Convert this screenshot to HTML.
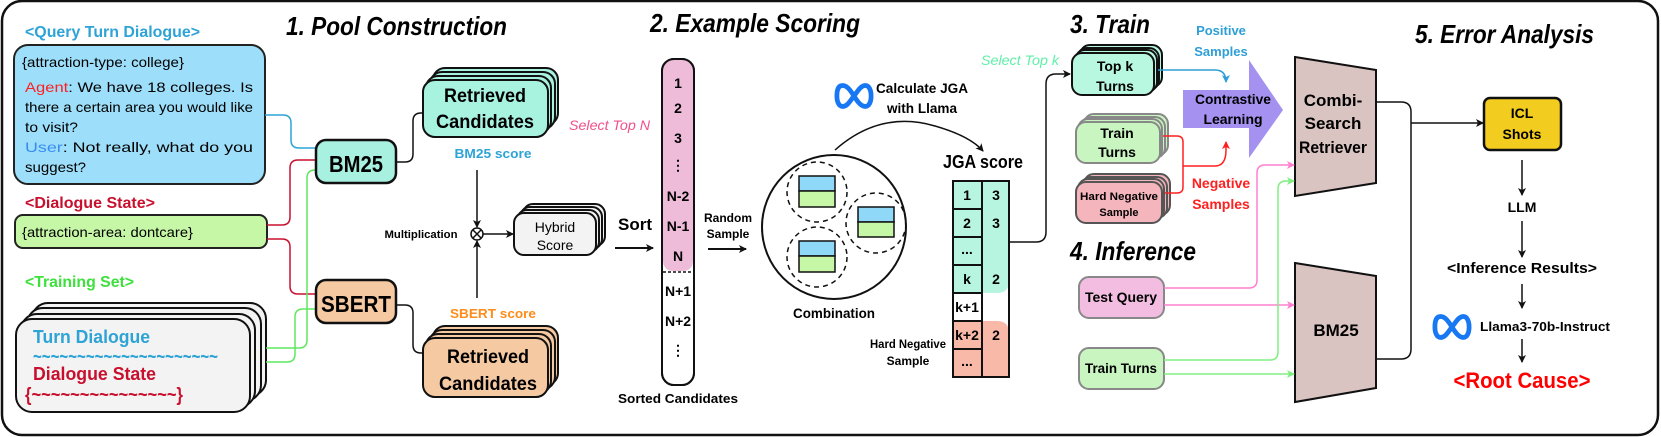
<!DOCTYPE html>
<html><head><meta charset="utf-8"><style>
html,body{margin:0;padding:0;background:#fff;}
svg{display:block;}
text{font-family:"Liberation Sans",sans-serif;font-weight:bold;}
</style></head><body>
<svg width="1661" height="437" viewBox="0 0 1661 437" xmlns="http://www.w3.org/2000/svg">
<defs>
<marker id="ak" markerWidth="8" markerHeight="8" refX="7" refY="4" orient="auto" markerUnits="userSpaceOnUse"><path d="M0,0 L8,4 L0,8 L2,4 Z" fill="#111"/></marker>
<marker id="ab" markerWidth="8" markerHeight="8" refX="7" refY="4" orient="auto" markerUnits="userSpaceOnUse"><path d="M0,0 L8,4 L0,8 L2,4 Z" fill="#2e9fd6"/></marker>
<marker id="ar" markerWidth="8" markerHeight="8" refX="7" refY="4" orient="auto" markerUnits="userSpaceOnUse"><path d="M0,0 L8,4 L0,8 L2,4 Z" fill="#ff2020"/></marker>
<marker id="ap" markerWidth="8" markerHeight="8" refX="7" refY="4" orient="auto" markerUnits="userSpaceOnUse"><path d="M0,0 L8,4 L0,8 L2,4 Z" fill="#ff80d0"/></marker>
<marker id="ag" markerWidth="8" markerHeight="8" refX="7" refY="4" orient="auto" markerUnits="userSpaceOnUse"><path d="M0,0 L8,4 L0,8 L2,4 Z" fill="#80ef80"/></marker>
<path id="meta" d="M0,0 C-5,-8 -8,-11 -12,-11 C-17,-11 -18,-5 -18,0 C-18,6 -16,11 -12,11 C-7,11 -4,5 0,0 C4,-5 7,-11 12,-11 C16,-11 18,-6 18,0 C18,6 16,11 12,11 C8,11 5,8 0,0 Z" fill="none" stroke="#1877f2" stroke-width="5"/>
</defs>
<rect x="2" y="1" width="1656" height="434" rx="20" fill="#fff" stroke="#111" stroke-width="2.5"/>

<!-- titles -->
<text x="286" y="35" font-size="26" font-style="italic" textLength="221" lengthAdjust="spacingAndGlyphs">1. Pool Construction</text>
<text x="650" y="32" font-size="26" font-style="italic" textLength="210" lengthAdjust="spacingAndGlyphs">2. Example Scoring</text>
<text x="1070" y="33" font-size="26" font-style="italic" textLength="80" lengthAdjust="spacingAndGlyphs">3. Train</text>
<text x="1070" y="260" font-size="26" font-style="italic" textLength="126" lengthAdjust="spacingAndGlyphs">4. Inference</text>
<text x="1415" y="43" font-size="26" font-style="italic" textLength="179" lengthAdjust="spacingAndGlyphs">5. Error Analysis</text>

<!-- left section -->
<text x="25" y="37" font-size="16" fill="#2ea3d6" textLength="175" lengthAdjust="spacingAndGlyphs">&lt;Query Turn Dialogue&gt;</text>
<rect x="14" y="45" width="251" height="139" rx="14" fill="#9ddffa" stroke="#222" stroke-width="2"/>
<text x="22" y="67" font-size="14" textLength="162" lengthAdjust="spacingAndGlyphs" style="font-weight:normal">{attraction-type: college}</text>
<g font-size="14">
<text x="25" y="92" textLength="228" lengthAdjust="spacingAndGlyphs" style="font-weight:normal"><tspan fill="#ff2020">Agent</tspan>: We have 18 colleges. Is</text>
<text x="25" y="112" textLength="228" lengthAdjust="spacingAndGlyphs" style="font-weight:normal">there a certain area you would like</text>
<text x="25" y="132" textLength="53" lengthAdjust="spacingAndGlyphs" style="font-weight:normal">to visit?</text>
<text x="25" y="152" textLength="228" lengthAdjust="spacingAndGlyphs" style="font-weight:normal"><tspan fill="#3a8df0">User</tspan>: Not really, what do you</text>
<text x="25" y="172" textLength="61" lengthAdjust="spacingAndGlyphs" style="font-weight:normal">suggest?</text>
</g>
<text x="25" y="208" font-size="16" fill="#c8102e" textLength="130" lengthAdjust="spacingAndGlyphs">&lt;Dialogue State&gt;</text>
<rect x="15" y="215" width="252" height="33" rx="8" fill="#c6f7a6" stroke="#222" stroke-width="2"/>
<text x="22" y="237" font-size="14" textLength="171" lengthAdjust="spacingAndGlyphs" style="font-weight:normal">{attraction-area: dontcare}</text>
<text x="25" y="287" font-size="16" fill="#3de03d" textLength="109" lengthAdjust="spacingAndGlyphs">&lt;Training Set&gt;</text>

<g fill="#f3f3f3" stroke="#111" stroke-width="2">
<rect x="32" y="303" width="234" height="93" rx="16"/>
<rect x="27" y="308" width="234" height="93" rx="16"/>
<rect x="21" y="314" width="234" height="93" rx="16"/>
<rect x="16" y="319" width="234" height="93" rx="16"/>
</g>
<text x="33" y="343" font-size="18" fill="#2ea3d6" textLength="117" lengthAdjust="spacingAndGlyphs">Turn Dialogue</text>
<text x="33" y="363" font-size="20" fill="#2ea3d6" textLength="185" lengthAdjust="spacingAndGlyphs">~~~~~~~~~~~~~~~~~~~~~</text>
<text x="33" y="380" font-size="18" fill="#c8102e" textLength="123" lengthAdjust="spacingAndGlyphs">Dialogue State</text>
<text x="25" y="401" font-size="19" fill="#c8102e" textLength="158" lengthAdjust="spacingAndGlyphs">{~~~~~~~~~~~~~~~}</text>

<!-- connectors left -->
<g fill="none" stroke-width="1.5">
<path d="M265,115 H283 Q291,115 291,123 V140 Q291,148 299,148 H316" stroke="#2ea3d6"/>
<path d="M267,225 H282 Q290,225 290,217 V168 Q290,160 298,160 H316" stroke="#c8102e"/>
<path d="M267,239 H282 Q290,239 290,247 V286 Q290,294 298,294 H316" stroke="#c8102e"/>
<path d="M266,348 H299 Q307,348 307,340 V178 Q307,170 315,170 H316" stroke="#5ee85e"/>
<path d="M266,362 H287 Q295,362 295,354 V317 Q295,309 303,309 H316" stroke="#5ee85e"/>
</g>
<rect x="316" y="140" width="80" height="43" rx="10" fill="#a8f0e0" stroke="#111" stroke-width="2.5"/>
<text x="356" y="172" font-size="23" text-anchor="middle" textLength="54" lengthAdjust="spacingAndGlyphs">BM25</text>
<rect x="316" y="280" width="80" height="43" rx="10" fill="#f5c9a2" stroke="#111" stroke-width="2.5"/>
<text x="356" y="312" font-size="23" text-anchor="middle" textLength="70" lengthAdjust="spacingAndGlyphs">SBERT</text>

<g fill="none" stroke="#111" stroke-width="1.5">
<path d="M396,162 H405 Q413,162 413,154 V121 Q413,113 421,113 H423"/>
<path d="M396,305 H405 Q413,305 413,313 V345 Q413,353 421,353 H423"/>
</g>
<g fill="#a8f2e0" stroke="#111" stroke-width="2">
<rect x="433" y="68" width="125" height="57" rx="12"/>
<rect x="430" y="72" width="125" height="57" rx="12"/>
<rect x="426" y="76" width="125" height="57" rx="12"/>
<rect x="423" y="80" width="125" height="57" rx="12"/>
</g>
<text x="485" y="102" font-size="19" text-anchor="middle" textLength="82" lengthAdjust="spacingAndGlyphs">Retrieved</text>
<text x="485" y="128" font-size="19" text-anchor="middle" textLength="98" lengthAdjust="spacingAndGlyphs">Candidates</text>
<g fill="#f5c9a2" stroke="#111" stroke-width="2">
<rect x="433" y="326" width="125" height="59" rx="12"/>
<rect x="430" y="330" width="125" height="59" rx="12"/>
<rect x="426" y="334" width="125" height="59" rx="12"/>
<rect x="423" y="338" width="125" height="59" rx="12"/>
</g>
<text x="488" y="363" font-size="19" text-anchor="middle" textLength="82" lengthAdjust="spacingAndGlyphs">Retrieved</text>
<text x="488" y="390" font-size="19" text-anchor="middle" textLength="98" lengthAdjust="spacingAndGlyphs">Candidates</text>

<text x="493" y="158" font-size="13" fill="#2ea3d6" text-anchor="middle" textLength="77" lengthAdjust="spacingAndGlyphs">BM25 score</text>
<text x="493" y="318" font-size="13" fill="#ff8c1a" text-anchor="middle" textLength="86" lengthAdjust="spacingAndGlyphs">SBERT score</text>
<line x1="477" y1="170" x2="477" y2="227" stroke="#111" stroke-width="1.5" marker-end="url(#ak)"/>
<line x1="477" y1="298" x2="477" y2="241" stroke="#111" stroke-width="1.5" marker-end="url(#ak)"/>
<circle cx="477" cy="234" r="6" fill="#fff" stroke="#111" stroke-width="1.5"/>
<path d="M473,230 L481,238 M481,230 L473,238" stroke="#111" stroke-width="1.5"/>
<text x="421" y="238" font-size="11" text-anchor="middle" textLength="73" lengthAdjust="spacingAndGlyphs">Multiplication</text>
<line x1="483" y1="234" x2="513" y2="234" stroke="#111" stroke-width="1.5" marker-end="url(#ak)"/>
<g fill="#f3f3f3" stroke="#111" stroke-width="2">
<rect x="523" y="204" width="82" height="42" rx="10"/>
<rect x="520" y="207" width="82" height="42" rx="10"/>
<rect x="517" y="210" width="82" height="42" rx="10"/>
<rect x="514" y="213" width="82" height="42" rx="10"/>
</g>
<text x="555" y="232" font-size="14" text-anchor="middle" style="font-weight:normal">Hybrid</text>
<text x="555" y="250" font-size="14" text-anchor="middle" style="font-weight:normal">Score</text>

<!-- section 2 -->
<text x="635" y="230" font-size="17" text-anchor="middle">Sort</text>
<line x1="615" y1="248" x2="653" y2="248" stroke="#111" stroke-width="2" marker-end="url(#ak)"/>
<text x="569" y="130" font-size="14" fill="#f0508a" font-style="italic" textLength="81" lengthAdjust="spacingAndGlyphs" style="font-weight:normal">Select Top N</text>
<rect x="662" y="59" width="32" height="326" rx="12" fill="#fff" stroke="#111" stroke-width="2"/>
<path d="M663,260 V71 Q663,60 674,60 H682 Q693,60 693,71 V260 Q693,271 682,271 H674 Q663,271 663,260 Z" fill="#eebbd8"/>
<rect x="662" y="59" width="32" height="326" rx="12" fill="none" stroke="#111" stroke-width="2"/>
<line x1="663" y1="272" x2="693" y2="272" stroke="#111" stroke-width="1.5" stroke-dasharray="3,2"/>
<g font-size="14" text-anchor="middle">
<text x="678" y="88">1</text><text x="678" y="113">2</text><text x="678" y="143">3</text>
<text x="678" y="170">⋮</text><text x="678" y="201">N-2</text><text x="678" y="231">N-1</text>
<text x="678" y="261">N</text><text x="678" y="296">N+1</text><text x="678" y="326">N+2</text><text x="678" y="355">⋮</text>
</g>
<text x="678" y="403" font-size="13" text-anchor="middle" textLength="120" lengthAdjust="spacingAndGlyphs">Sorted Candidates</text>
<text x="728" y="222" font-size="12" text-anchor="middle">Random</text>
<text x="728" y="238" font-size="12" text-anchor="middle">Sample</text>
<line x1="708" y1="249" x2="746" y2="249" stroke="#111" stroke-width="2" marker-end="url(#ak)"/>

<circle cx="834" cy="227" r="72" fill="#fff" stroke="#111" stroke-width="2"/>
<g fill="none" stroke="#111" stroke-width="1.5" stroke-dasharray="5,4">
<circle cx="817" cy="192" r="30"/><circle cx="876" cy="223" r="30"/><circle cx="817" cy="257" r="30"/>
</g>
<g stroke="#111" stroke-width="1.5">
<rect x="799" y="176" width="36" height="15" fill="#8fd8f8"/><rect x="799" y="191" width="36" height="16" fill="#c6f7a6"/>
<rect x="858" y="207" width="36" height="15" fill="#8fd8f8"/><rect x="858" y="222" width="36" height="15" fill="#c6f7a6"/>
<rect x="799" y="241" width="36" height="15" fill="#8fd8f8"/><rect x="799" y="256" width="36" height="16" fill="#c6f7a6"/>
</g>
<text x="834" y="318" font-size="14" text-anchor="middle" textLength="82" lengthAdjust="spacingAndGlyphs">Combination</text>
<path d="M835,150 Q880,110 935,126 Q970,136 983,151" fill="none" stroke="#111" stroke-width="1.5" marker-end="url(#ak)"/>
<use href="#meta" transform="translate(854,96) scale(0.95)"/>
<text x="922" y="93" font-size="14" text-anchor="middle" textLength="92" lengthAdjust="spacingAndGlyphs">Calculate JGA</text>
<text x="922" y="113" font-size="14" text-anchor="middle" textLength="70" lengthAdjust="spacingAndGlyphs">with Llama</text>
<text x="983" y="168" font-size="18" text-anchor="middle" textLength="80" lengthAdjust="spacingAndGlyphs">JGA score</text>

<!-- JGA table -->
<rect x="953" y="181" width="29" height="112" fill="#b8f5e0"/>
<rect x="953" y="321" width="29" height="56" fill="#f8b9a8"/>
<path d="M982,181 H1009 V281 Q1009,293 997,293 H982 Z" fill="#b8f5e0"/>
<path d="M982,377 H1009 V333 Q1009,321 997,321 H982 Z" fill="#f8b9a8"/>
<g stroke="#111" stroke-width="2" fill="none">
<rect x="953" y="181" width="56" height="196"/>
<line x1="982" y1="181" x2="982" y2="377"/>
<line x1="953" y1="209" x2="982" y2="209"/><line x1="953" y1="237" x2="982" y2="237"/>
<line x1="953" y1="265" x2="982" y2="265"/><line x1="953" y1="293" x2="982" y2="293"/>
<line x1="953" y1="321" x2="982" y2="321"/><line x1="953" y1="349" x2="982" y2="349"/>
</g>
<g font-size="14" text-anchor="middle">
<text x="967" y="200">1</text><text x="967" y="228">2</text><text x="967" y="254">...</text>
<text x="967" y="284">k</text><text x="967" y="312">k+1</text><text x="967" y="340">k+2</text><text x="967" y="366">...</text>
<text x="996" y="200">3</text><text x="996" y="228">3</text><text x="996" y="284">2</text><text x="996" y="340">2</text>
</g>
<text x="908" y="348" font-size="12" text-anchor="middle" textLength="76" lengthAdjust="spacingAndGlyphs">Hard Negative</text>
<text x="908" y="365" font-size="12" text-anchor="middle">Sample</text>
<path d="M1009,242 H1036 Q1046,242 1046,232 V84 Q1046,74 1056,74 H1070" fill="none" stroke="#111" stroke-width="1.5" marker-end="url(#ak)"/>
<text x="981" y="65" font-size="14" fill="#5ef0a8" font-style="italic" textLength="78" lengthAdjust="spacingAndGlyphs" style="font-weight:normal">Select Top k</text>

<!-- section 3 -->
<g fill="#b8f8e0" stroke="#111" stroke-width="2">
<rect x="1080" y="45" width="82" height="42" rx="10"/>
<rect x="1077" y="48" width="82" height="42" rx="10"/>
<rect x="1075" y="50" width="82" height="42" rx="10"/>
<rect x="1072" y="53" width="82" height="42" rx="10"/>
</g>
<text x="1115" y="71" font-size="14" text-anchor="middle">Top k</text>
<text x="1115" y="91" font-size="14" text-anchor="middle">Turns</text>
<text x="1221" y="35" font-size="13" fill="#2e9fd6" text-anchor="middle">Positive</text>
<text x="1221" y="56" font-size="13" fill="#2e9fd6" text-anchor="middle">Samples</text>
<path d="M1158,70 H1215 Q1226,70 1226,82" fill="none" stroke="#2e9fd6" stroke-width="1.5" marker-end="url(#ab)"/>
<path d="M1183,90 H1249 V60 L1283,110 L1249,158 V128 H1183 Z" fill="#a591ef"/>
<text x="1233" y="104" font-size="14" text-anchor="middle" textLength="76" lengthAdjust="spacingAndGlyphs">Contrastive</text>
<text x="1233" y="124" font-size="14" text-anchor="middle">Learning</text>
<g fill="#c8f5c0" stroke="#888" stroke-width="2">
<rect x="1084" y="114" width="84" height="41" rx="10"/>
<rect x="1081" y="117" width="84" height="41" rx="10"/>
<rect x="1078" y="119" width="84" height="41" rx="10"/>
<rect x="1076" y="122" width="84" height="41" rx="10"/>
</g>
<text x="1117" y="138" font-size="14" text-anchor="middle">Train</text>
<text x="1117" y="157" font-size="14" text-anchor="middle">Turns</text>
<g fill="#f5b5bc" stroke="#555" stroke-width="2">
<rect x="1084" y="174" width="86" height="41" rx="10"/>
<rect x="1081" y="177" width="86" height="41" rx="10"/>
<rect x="1078" y="179" width="86" height="41" rx="10"/>
<rect x="1076" y="182" width="86" height="41" rx="10"/>
</g>
<text x="1119" y="200" font-size="11" text-anchor="middle" textLength="78" lengthAdjust="spacingAndGlyphs">Hard Negative</text>
<text x="1119" y="216" font-size="11" text-anchor="middle">Sample</text>
<path d="M1163,136 H1177 Q1183,136 1183,142 V187 Q1183,193 1177,193 H1165 M1183,166 H1215 Q1226,166 1226,150 V142" fill="none" stroke="#ff2020" stroke-width="1.5" marker-end="url(#ar)"/>
<text x="1221" y="188" font-size="14" fill="#ff2020" text-anchor="middle">Negative</text>
<text x="1221" y="209" font-size="14" fill="#ff2020" text-anchor="middle">Samples</text>

<!-- section 4 -->
<path d="M1295,57 L1376,70 L1376,183 L1295,196 Z" fill="#d9c4c1" stroke="#111" stroke-width="2"/>
<text x="1333" y="106" font-size="17" text-anchor="middle">Combi-</text>
<text x="1333" y="129" font-size="17" text-anchor="middle">Search</text>
<text x="1333" y="153" font-size="17" text-anchor="middle" textLength="68" lengthAdjust="spacingAndGlyphs">Retriever</text>
<path d="M1295,263 L1376,276 L1376,388 L1295,402 Z" fill="#d9c4c1" stroke="#111" stroke-width="2"/>
<text x="1336" y="336" font-size="17" text-anchor="middle">BM25</text>
<rect x="1079" y="277" width="85" height="41" rx="10" fill="#f2bde0" stroke="#888" stroke-width="2"/>
<text x="1121" y="302" font-size="14" text-anchor="middle" textLength="72" lengthAdjust="spacingAndGlyphs">Test Query</text>
<rect x="1079" y="348" width="85" height="41" rx="10" fill="#c8f5c0" stroke="#888" stroke-width="2"/>
<text x="1121" y="373" font-size="14" text-anchor="middle" textLength="72" lengthAdjust="spacingAndGlyphs">Train Turns</text>
<g fill="none" stroke-width="1.5">
<path d="M1164,288 H1249 Q1257,288 1257,280 V173 Q1257,165 1265,165 H1294" stroke="#ff80d0" marker-end="url(#ap)"/>
<path d="M1164,305 H1294" stroke="#ff80d0" marker-end="url(#ap)"/>
<path d="M1164,360 H1270 Q1278,360 1278,352 V189 Q1278,181 1286,181 H1294" stroke="#80ef80" marker-end="url(#ag)"/>
<path d="M1164,374 H1294" stroke="#80ef80" marker-end="url(#ag)"/>
<path d="M1376,102 H1401 Q1411,102 1411,112 V349 Q1411,359 1401,359 H1376" stroke="#111"/>
<path d="M1411,123 H1483" stroke="#111" marker-end="url(#ak)"/>
</g>

<!-- section 5 -->
<rect x="1484" y="98" width="77" height="52" rx="6" fill="#f2cc1f" stroke="#111" stroke-width="2.5"/>
<text x="1522" y="118" font-size="14" text-anchor="middle">ICL</text>
<text x="1522" y="139" font-size="14" text-anchor="middle">Shots</text>
<g stroke="#111" stroke-width="1.5">
<line x1="1522" y1="160" x2="1522" y2="195" marker-end="url(#ak)"/>
<line x1="1522" y1="221" x2="1522" y2="257" marker-end="url(#ak)"/>
<line x1="1522" y1="284" x2="1522" y2="308" marker-end="url(#ak)"/>
<line x1="1522" y1="339" x2="1522" y2="362" marker-end="url(#ak)"/>
</g>
<text x="1522" y="212" font-size="14" text-anchor="middle">LLM</text>
<text x="1522" y="273" font-size="15" text-anchor="middle" textLength="150" lengthAdjust="spacingAndGlyphs">&lt;Inference Results&gt;</text>
<use href="#meta" transform="translate(1452,327) scale(0.95)"/>
<text x="1480" y="331" font-size="13" textLength="130" lengthAdjust="spacingAndGlyphs">Llama3-70b-Instruct</text>
<text x="1522" y="388" font-size="22" fill="#ff0000" text-anchor="middle" textLength="137" lengthAdjust="spacingAndGlyphs">&lt;Root Cause&gt;</text>
</svg>
</body></html>
